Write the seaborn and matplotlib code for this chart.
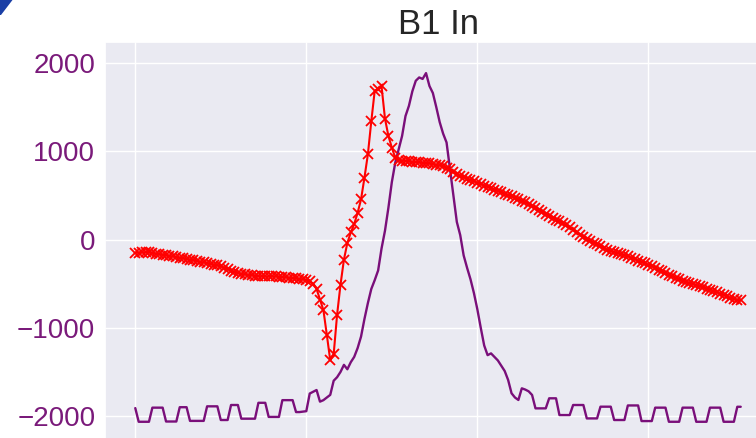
import numpy as np
import pandas as pd
import matplotlib
matplotlib.use("Agg")
import matplotlib.pyplot as plt
import seaborn as sns
from matplotlib.patches import Polygon

title = "B1 In"
yticks = [2000, 1000, 0, -1000, -2000]

red_vals = [
    -150, -148, -145, -143, -145, -150, -160, -168, -172, -178,
    -185, -192, -198, -205, -212, -220, -228, -235, -243, -250,
    -258, -266, -275, -284, -293, -305, -318, -335, -352, -365,
    -378, -388, -395, -400, -405, -410, -414, -417, -418, -417,
    -416, -417, -420, -424, -428, -432, -436, -441, -446, -452,
    -460, -474, -500, -560, -682, -800, -1080, -1370, -1300, -852,
    -511, -227, -38, 80, 175, 303, 455, 701, 966, 1340,
    1686, 1705, 1735, 1370, 1174, 1042, 928, 905, 895, 890,
    885, 880, 878, 874, 870, 866, 862, 855, 848, 840,
    828, 815, 795, 770, 745, 722, 705, 690, 675, 660,
    645, 628, 612, 598, 582, 566, 550, 535, 520, 505,
    490, 472, 455, 438, 420, 400, 380, 360, 338, 315,
    292, 270, 248, 226, 205, 182, 160, 138, 112, 85,
    55, 28, 5, -15, -35, -55, -75, -95, -115, -130,
    -143, -155, -165, -175, -190, -205, -220, -238, -255, -270,
    -285, -302, -320, -340, -360, -380, -400, -418, -435, -450,
    -465, -478, -492, -505, -518, -530, -542, -555, -568, -582,
    -597, -612, -628, -645, -660, -673, -683, -690,
]

purple_vals = [
    -1910, -2065, -2065, -2065, -2065, -1905, -1905, -1905, -1905, -2062,
    -2062, -2062, -2062, -1900, -1900, -1900, -2055, -2055, -2055, -2055,
    -2055, -1890, -1890, -1890, -1890, -2045, -2045, -2045, -1875, -1875,
    -1875, -2030, -2030, -2030, -2030, -2030, -1850, -1850, -1850, -2010,
    -2010, -2010, -2010, -1820, -1820, -1820, -1820, -1955, -1955, -1950,
    -1945, -1745, -1725, -1705, -1837, -1820, -1790, -1760, -1600, -1560,
    -1500, -1420, -1470, -1390, -1330, -1230, -1100, -900, -720, -560,
    -460, -350, -100, 100, 360, 650, 870, 1020, 1174, 1400,
    1515, 1680, 1799, 1837, 1820, 1886, 1740, 1660, 1500, 1330,
    1200, 1100, 800, 500, 200, 50, -180, -320, -450, -606,
    -790, -1000, -1200, -1310, -1290, -1330, -1370, -1430, -1490, -1591,
    -1742, -1790, -1818, -1686, -1700, -1720, -1761, -1913, -1913, -1913,
    -1913, -1799, -1799, -1799, -1989, -1989, -1989, -1989, -1875, -1875,
    -1875, -1875, -2027, -2027, -2027, -2027, -1894, -1894, -1894, -1894,
    -2045, -2045, -2045, -2045, -1880, -1880, -1880, -1880, -2057, -2057,
    -2057, -2057, -1905, -1905, -1905, -1905, -2065, -2065, -2065, -2065,
    -1905, -1905, -1905, -1905, -2065, -2065, -2065, -2065, -1905, -1905,
    -1905, -1905, -2065, -2065, -2065, -2065, -1895, -1895,
]

idx = list(range(len(red_vals)))
df = pd.DataFrame({"idx": idx, "red": red_vals, "purple": purple_vals})

sns.set_theme(style="darkgrid")
plt.rcParams["font.family"] = ["Liberation Sans", "DejaVu Sans"]

fig = plt.figure(figsize=(7.56, 4.38), dpi=100)
ax = fig.add_axes([105 / 756, -0.0103, 666 / 756, 0.904 + 0.0103])

sns.lineplot(data=df, x="idx", y="purple", color="#7a0f7a", linewidth=1.7, ax=ax)
sns.lineplot(data=df, x="idx", y="red", color="red", linewidth=1.5, marker="x",
             markersize=7, markeredgewidth=1.3, markeredgecolor="red", ax=ax)

ax.set_xlim(-8.85, 185.85)
ax.set_ylim(-2300, 2238)
ax.set_xticks([0, 50, 100, 150])
ax.set_xticklabels([])
ax.set_yticks(yticks)
ax.set_yticklabels([str(v).replace("-", "\u2212") for v in yticks])
ax.set_xlabel("")
ax.set_ylabel("")
ax.tick_params(axis="y", length=4, width=1, color="#555555", labelcolor="#7a1a7a",
               labelsize=20, pad=3)
ax.tick_params(axis="x", length=0)
ax.set_title(title, fontsize=25, color="#262626", pad=6)

fig.patches.append(Polygon([(0, 438), (12.5, 438), (1, 423), (0, 423)], closed=True,
                           transform=None, facecolor="#1b3fa6", edgecolor="none"))

fig.savefig("out.png", dpi=100)
